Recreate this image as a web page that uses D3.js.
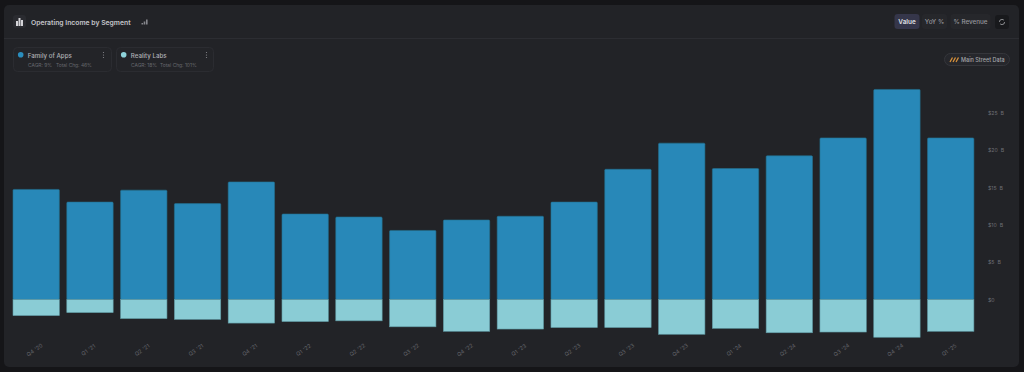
<!DOCTYPE html>
<html><head><meta charset="utf-8">
<script src="https://cdn.jsdelivr.net/npm/d3@7"></script>
<style>html,body{margin:0;padding:0;background:#151518;overflow:hidden}svg{display:block}text{font-family:Inter,"Noto Sans",sans-serif}</style>
</head><body><svg id="c" width="1024" height="372"></svg>
<script>
const quarters=["Q4 '20","Q1 '21","Q2 '21","Q3 '21","Q4 '21","Q1 '22","Q2 '22","Q3 '22","Q4 '22","Q1 '23","Q2 '23","Q3 '23","Q4 '23","Q1 '24","Q2 '24","Q3 '24","Q4 '24","Q1 '25"];
const familyOfApps=[14.8,13.1,14.7,12.9,15.8,11.5,11.1,9.3,10.7,11.2,13.1,17.5,21.0,17.6,19.3,21.7,28.2,21.7];
const realityLabs=[-2.2,-1.8,-2.6,-2.7,-3.2,-3.0,-2.9,-3.7,-4.3,-4.0,-3.8,-3.8,-4.7,-3.9,-4.5,-4.4,-5.1,-4.3];
const yTicks=[0,5,10,15,20,25];
const tickLabels=["$0","$5 B","$10 B","$15 B","$20 B","$25 B"];
const tabs=["Value","YoY %","% Revenue"];

const svg=d3.select("#c");
const rr=(x,y,w,h,r,f,s)=>svg.append("rect").attr("x",x).attr("y",y).attr("width",w).attr("height",h).attr("rx",r).attr("fill",f).attr("stroke",s||"none");
const tx=(x,y,t,size,fill,weight,anchor)=>svg.append("text").attr("x",x).attr("y",y).text(t).attr("font-size",size).attr("fill",fill).attr("font-weight",weight||400).attr("text-anchor",anchor||"start");

rr(4,5,1015,362,5,"#222327");
svg.append("line").attr("x1",4).attr("x2",1019).attr("y1",38.5).attr("y2",38.5).attr("stroke","#2c2d32");

// header
rr(13,15,13,13,3,"#2a2b30");
[[16,21,2,5],[18.5,18,2,8],[21,20,2,6]].forEach(d=>rr(d[0],d[1],d[2],d[3],0,"#d4d4d8"));
tx(31,24.5,"Operating Income by Segment",6.8,"#c4c5ca",600);
[[141.5,23,1.6,1.5],[143.7,21.5,1.6,3],[146,19.5,1.6,5]].forEach(d=>rr(d[0],d[1],d[2],d[3],0,"#85868c"));

// legend
const legend=[
 {x:13.5,w:98,c:"#2a8dbd",n:"Family of Apps",s:"CAGR: 9%",t:"Total Chg: 46%",tx:56},
 {x:116.5,w:97,c:"#8ed3da",n:"Reality Labs",s:"CAGR: 18%",t:"Total Chg: 101%",tx:160}];
legend.forEach(l=>{
 rr(l.x,47.5,l.w,24,4,"#232428","#2b2c31");
 svg.append("circle").attr("cx",l.x+7.2).attr("cy",54.7).attr("r",2.8).attr("fill",l.c);
 tx(l.x+14.3,58,l.n,6.2,"#b0b1b6",500);
 tx(l.x+14.5,67,l.s,4.9,"#67686e");
 tx(l.tx,67,l.t,4.9,"#67686e");
 [-2.5,0,2.5].forEach(o=>svg.append("circle").attr("cx",l.x+90).attr("cy",55+o).attr("r",.6).attr("fill","#8a8b90"));
});

// tabs
const tabBoxes=[[894.5,25,true],[922,25,false],[950.5,40,false]];
tabs.forEach((t,i)=>{
 const b=tabBoxes[i];
 rr(b[0],14,b[1],15,3,b[2]?"#35364a":"#26272b");
 tx(b[0]+b[1]/2,24,t,6.3,b[2]?"#d6d7dc":"#96979d",b[2]?700:500,"middle");
});
rr(995,15,14,14,3,"#18191c");
svg.append("circle").attr("cx",1002).attr("cy",22).attr("r",2.6).attr("fill","none").attr("stroke","#a5a6aa").attr("stroke-width",.8).attr("stroke-dasharray","6 2");

// badge
rr(944.5,53.5,65,12,6,"#26272c","#35363b");
[0,3,6].forEach(o=>svg.append("line").attr("x1",950+o).attr("x2",952.5+o).attr("y1",62).attr("y2",57.5).attr("stroke","#d8913a").attr("stroke-width",1.3));
tx(961,61.5,"Main Street Data",5.5,"#a3a4a9",500);

// chart
const x=d3.scaleBand().domain(quarters).range([9.2,977.7]).paddingInner(0.127).paddingOuter(0.065);
const y=d3.scaleLinear().domain([0,25]).range([299.5,113]);
const g=svg.append("g");
g.selectAll(".fa").data(quarters).join("rect").attr("class","fa").attr("x",d=>x(d)+.3).attr("width",x.bandwidth()-.6)
 .attr("y",(d,i)=>y(familyOfApps[i])+.3).attr("height",(d,i)=>y(0)-y(familyOfApps[i])-.3).attr("fill","#2888b8").attr("stroke","#24708f").attr("stroke-width",.6).attr("rx",1);
g.selectAll(".rl").data(quarters).join("rect").attr("class","rl").attr("x",d=>x(d)+.3).attr("width",x.bandwidth()-.6)
 .attr("y",y(0)).attr("height",(d,i)=>y(realityLabs[i])-y(0)-.3).attr("fill","#8accd5").attr("stroke","#5f99a3").attr("stroke-width",.6);

const axR=d3.axisRight(y).tickValues(yTicks).tickSize(0).tickFormat((d,i)=>tickLabels[i]);
const ay=svg.append("g").attr("transform","translate(985,0)").call(axR);
ay.select(".domain").remove();
ay.selectAll("text").attr("x",3).attr("font-size",5.2).attr("fill","#6e6f75").attr("font-family","Inter,sans-serif").attr("word-spacing",1.5);

const axB=d3.axisBottom(x).tickSize(0);
const ax=svg.append("g").attr("transform","translate(-.5,351.5)").call(axB);
ax.select(".domain").remove();
ax.selectAll("text").attr("font-size",5.4).attr("fill","#66676d").attr("font-family","Inter,sans-serif")
 .attr("text-anchor","middle").attr("dy",0).attr("y",0).attr("word-spacing",.6).attr("transform","rotate(-35)");
</script></body></html>
